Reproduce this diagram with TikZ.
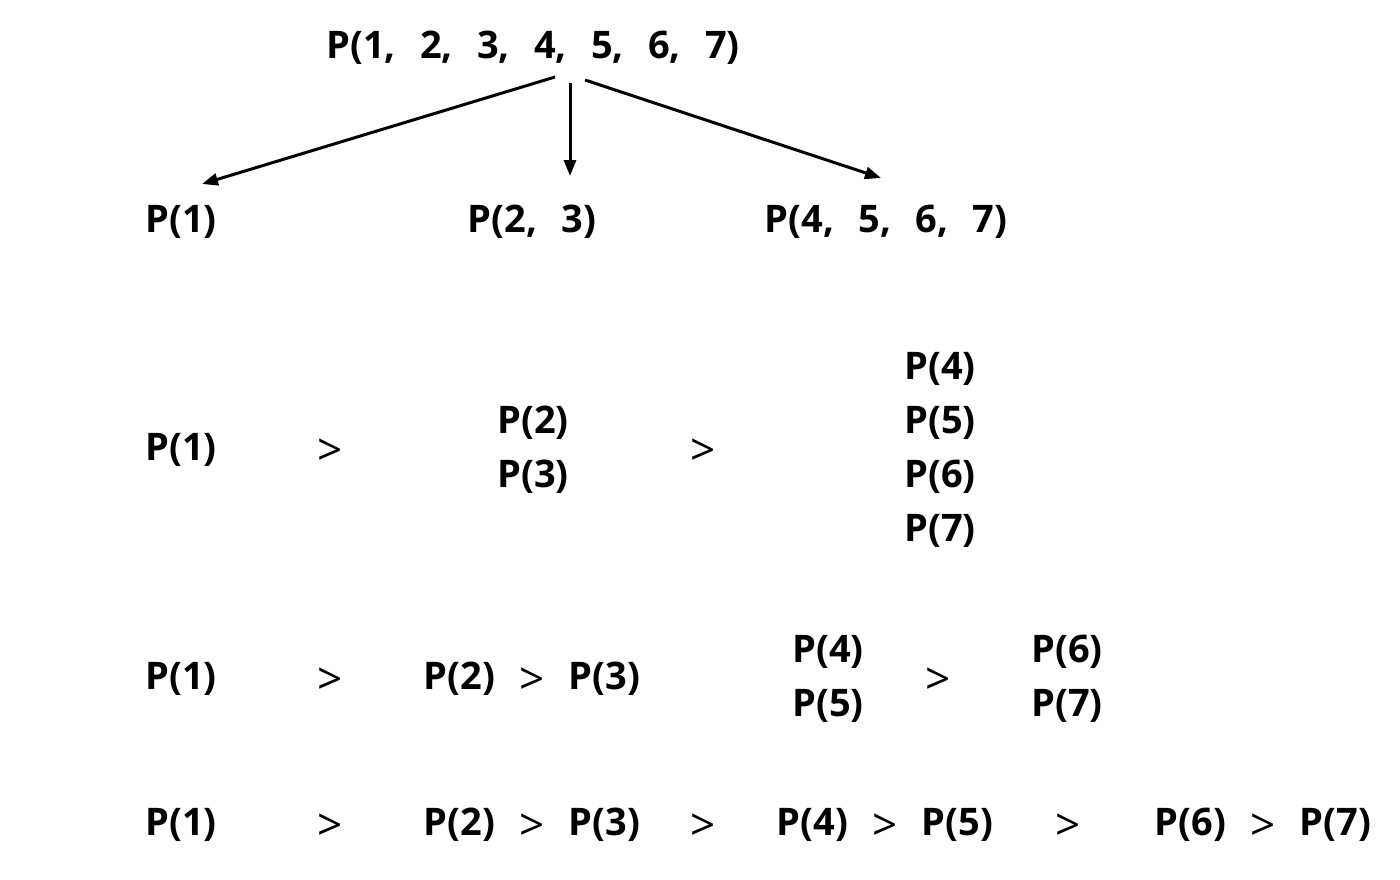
\documentclass[tikz,border=0pt]{standalone}
\usepackage{fontspec}
\setmainfont{Open Sans}
\usetikzlibrary{arrows.meta}
\newcommand\gp{\hspace{0.64em}}
\newcommand\igt{\raisebox{-5pt}{\mdseries\fontsize{44}{54}\selectfont>}}
\tikzset{
  lbl/.style={inner sep=0pt, anchor=center, font=\fontsize{38}{54}\selectfont\bfseries, align=center},
  gt/.style={lbl, font=\fontsize{44}{54}\selectfont},
  arr/.style={line width=3pt, -{Triangle[length=16pt,width=12pt]}}
}
\begin{document}
\begin{tikzpicture}[x=1pt,y=-1pt]
\useasboundingbox[fill=white] (0,0) rectangle (1400,879);
% row 1
\node[lbl] (top) at (533,48) {P(1,\gp2,\gp3,\gp4,\gp5,\gp6,\gp7)};
% row 2
\node[lbl] (a1) at (181,222) {P(1)};
\node[lbl] (a2) at (532,222) {P(2,\gp3)};
\node[lbl] (a3) at (886,222) {P(4,\gp5,\gp6,\gp7)};
\coordinate (s1) at (555,77);
\coordinate (s2) at (570,83);
\coordinate (s3) at (585,80);
\coordinate (e1) at (202,184);
\coordinate (e2) at (570,176);
\coordinate (e3) at (881,178);
\draw[arr] (s1) -- (e1);
\draw[arr] (s2) -- (e2);
\draw[arr] (s3) -- (e3);
% row 3
\node[lbl] (b1) at (181,450) {P(1)};
\node[gt] (b2) at (330,452) {>};
\node[lbl] (b3) at (533,450) {P(2)\\P(3)};
\node[gt] (b4) at (703,452) {>};
\node[lbl] (b5) at (940,450) {P(4)\\P(5)\\P(6)\\P(7)};
% row 4
\node[lbl] (c1) at (181,679) {P(1)};
\node[gt] (c2) at (330,681) {>};
\node[lbl] (c3) at (532,679) {P(2)\gp\igt\gp P(3)};
\node[lbl] (c4) at (828,679) {P(4)\\P(5)};
\node[gt] (c5) at (938,681) {>};
\node[lbl] (c6) at (1067,679) {P(6)\\P(7)};
% row 5
\node[lbl] (d1) at (181,825) {P(1)};
\node[gt] (d2) at (330,827) {>};
\node[lbl] (d3) at (532,825) {P(2)\gp\igt\gp P(3)};
\node[gt] (d4) at (703,827) {>};
\node[lbl] (d5) at (885,825) {P(4)\gp\igt\gp P(5)};
\node[gt] (d6) at (1068,827) {>};
\node[lbl] (d7) at (1263,825) {P(6)\gp\igt\gp P(7)};
\end{tikzpicture}
\end{document}
